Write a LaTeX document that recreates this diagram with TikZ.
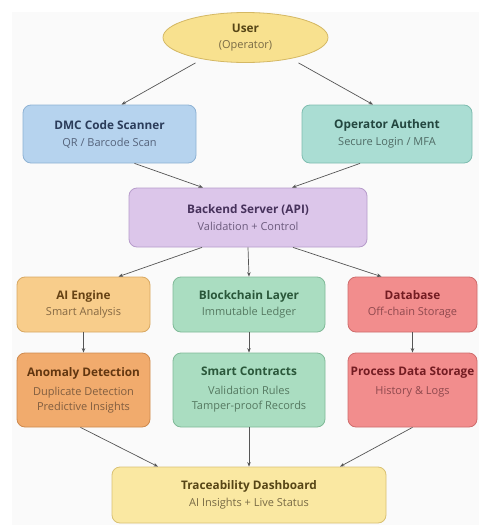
\documentclass[tikz,border=0pt]{standalone}
\usepackage{fontspec}
\setmainfont{Open Sans}
\usetikzlibrary{arrows.meta,shapes.geometric}

% fill / border / text colours of the boxes
\definecolor{yelF}{HTML}{F8E18F}  \definecolor{yelD}{HTML}{D4B864}  \definecolor{yelT}{HTML}{564516}
\definecolor{dshF}{HTML}{FAE8A2}  \definecolor{dshD}{HTML}{D9C173}  \definecolor{dshT}{HTML}{564516}
\definecolor{bluF}{HTML}{B6D3EE}  \definecolor{bluD}{HTML}{8EB2D4}  \definecolor{bluT}{HTML}{2B3C5A}
\definecolor{tealF}{HTML}{AADDD3} \definecolor{tealD}{HTML}{7EBDB0} \definecolor{tealT}{HTML}{23463F}
\definecolor{purF}{HTML}{DCC6EA}  \definecolor{purD}{HTML}{B79CCB}  \definecolor{purT}{HTML}{47325C}
\definecolor{oraF}{HTML}{F8CD8B}  \definecolor{oraD}{HTML}{D8A862}  \definecolor{oraT}{HTML}{664214}
\definecolor{grnF}{HTML}{AADDC1}  \definecolor{grnD}{HTML}{80BA98}  \definecolor{grnT}{HTML}{2A573A}
\definecolor{redF}{HTML}{F28D8D}  \definecolor{redD}{HTML}{CF6C6C}  \definecolor{redT}{HTML}{731C22}
\definecolor{dorF}{HTML}{F1AB6D}  \definecolor{dorD}{HTML}{CE8A4E}  \definecolor{dorT}{HTML}{623610}
\definecolor{arrowgray}{HTML}{555555}

\newcommand{\hd}[1]{{\fontsize{11.8}{15}\selectfont\bfseries #1}}
\newcommand{\subln}[1]{{\color{.!80!white}#1}}

\begin{document}
\begin{tikzpicture}[x=1pt,y=-1pt,
    mybox/.style={
        rectangle,
        rounded corners=8pt,
        draw=#1D,
        fill=#1F,
        text=#1T,
        line width=0.8pt,
        inner sep=0pt,
        align=center,
        font=\fontsize{11}{15}\selectfont},
    myellipse/.style={
        ellipse,
        draw=#1D,
        fill=#1F,
        text=#1T,
        line width=0.8pt,
        inner sep=0pt,
        align=center,
        minimum width=165pt,
        minimum height=50pt,
        font=\fontsize{11}{15}\selectfont},
    myarrow/.style={-{Stealth[length=4.5pt,width=3.5pt]}, draw=arrowgray, line width=0.7pt}
    ]
    \useasboundingbox (0,0) rectangle (479,525);
    \fill[white] (0,0) rectangle (479,525);
    \fill[black!2] (12,12) rectangle (479,525);

    \node[myellipse=yel] (user) at (245.5,37.5) {\hd{User}\\[1pt] \subln{(Operator)}};

    \node[mybox=blu, minimum width=173pt, minimum height=58pt] (dmc) at (109.5,134)
        {\hd{DMC Code Scanner}\\[2pt] \subln{QR / Barcode Scan}};
    \node[mybox=teal, minimum width=170pt, minimum height=58pt] (auth) at (387,134)
        {\hd{Operator Authent}\\[2pt] \subln{Secure Login / MFA}};

    \node[mybox=pur, minimum width=238pt, minimum height=59pt] (api) at (248,217.5)
        {\hd{Backend Server (API)}\\[2pt] \subln{Validation + Control}};

    \node[mybox=ora, minimum width=133pt, minimum height=55pt] (ai) at (83.5,304.5)
        {\hd{AI Engine}\\[1pt] \subln{Smart Analysis}};
    \node[mybox=grn, minimum width=152pt, minimum height=55pt] (chain) at (249,304.5)
        {\hd{Blockchain Layer}\\[1pt] \subln{Immutable Ledger}};
    \node[mybox=red, minimum width=129pt, minimum height=55pt] (db) at (412.5,304.5)
        {\hd{Database}\\[1pt] \subln{Off-chain Storage}};

    \node[mybox=dor, minimum width=133pt, minimum height=74pt] (anom) at (83.5,390)
        {\hd{Anomaly Detection}\\[4pt] \subln{Duplicate Detection}\\ \subln{Predictive Insights}};
    \node[mybox=grn, minimum width=152pt, minimum height=74pt] (smart) at (249,390)
        {\hd{Smart Contracts}\\[4pt] \subln{Validation Rules}\\ \subln{Tamper-proof Records}};
    \node[mybox=red, minimum width=129pt, minimum height=74pt] (proc) at (412.5,390)
        {\hd{Process Data Storage}\\[4pt] \subln{History \& Logs}\\ \strut};

    \node[mybox=dsh, minimum width=274pt, minimum height=56pt] (dash) at (249,495)
        {\hd{Traceability Dashboard}\\[2pt] \subln{AI Insights + Live Status}};

    \foreach \a/\da/\b/\db in {% from/shift/to/shift
        user/-50/dmc/12,
        user/53/auth/-14,
        dmc/25/api/-45,
        auth/-27/api/44,
        api/-46/ai/35,
        api/0/chain/0,
        api/45/db/-31,
        ai/0/anom/0,
        chain/0/smart/0,
        db/0/proc/0,
        anom/-3/dash/-91,
        smart/0/dash/0,
        proc/0/dash/91}
        \draw[myarrow] ([xshift=\da pt]\a.south) -- ([xshift=\db pt]\b.north);
\end{tikzpicture}
\end{document}
